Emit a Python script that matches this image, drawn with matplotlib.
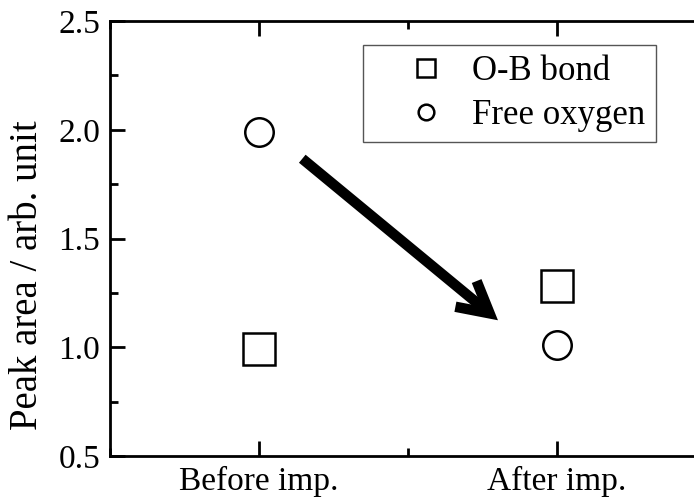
import matplotlib
matplotlib.use("Agg")
import matplotlib.pyplot as plt
from matplotlib.patches import FancyArrowPatch
from matplotlib.ticker import MultipleLocator

categories = ['Before imp.', 'After imp.']
ob_bond = [0.99, 1.28]
free_oxygen = [1.99, 1.01]

plt.rcParams['font.family'] = 'serif'
plt.rcParams['font.serif'] = ['Liberation Serif', 'Times New Roman', 'DejaVu Serif']

fig = plt.figure(figsize=(6.94, 5.04), dpi=100)
# axes runs past the right edge of the figure, like the cropped original
ax = fig.add_axes([0.1585, 0.0952, 0.9078, 0.8631])

x = list(range(len(categories)))
ax.plot(x, ob_bond, 's', ms=22.5, mfc='none', mec='black', mew=1.8, label='O-B bond')
ax.plot(x, free_oxygen, 'o', ms=20.5, mfc='none', mec='black', mew=1.8, label='Free oxygen')

ax.set_xlim(-0.5, 1.614)
ax.set_ylim(0.5, 2.5)
ax.set_xticks(x)
ax.set_xticklabels(categories)
ax.xaxis.set_minor_locator(MultipleLocator(0.5))
ax.yaxis.set_major_locator(MultipleLocator(0.5))
ax.yaxis.set_minor_locator(MultipleLocator(0.25))

ax.tick_params(which='both', direction='in', width=2, labelsize=24,
               left=True, right=False, top=True, bottom=True)
ax.tick_params(which='major', length=11)
ax.tick_params(which='minor', length=6)
ax.tick_params(axis='y', pad=7)
ax.tick_params(axis='x', pad=7)
for s in ax.spines.values():
    s.set_linewidth(2)
ax.spines['right'].set_visible(False)

ax.set_ylabel('Peak area / arb. unit', fontsize=28)
ax.yaxis.set_label_coords(-0.101, 0.415)

arrow = FancyArrowPatch((0.138, 1.875), (0.809, 1.116),
                        arrowstyle='->,head_length=1.1,head_width=0.6',
                        mutation_scale=20, lw=7.5, color='black',
                        capstyle='butt', joinstyle='miter')
ax.add_patch(arrow)

leg = ax.legend(loc='upper left', bbox_to_anchor=(0.4016, 0.945), borderaxespad=0,
                fontsize=25, markerscale=0.55, fancybox=False, framealpha=1,
                borderpad=0.3, handlelength=3.0, handletextpad=-0.16, labelspacing=0.3)
leg.get_frame().set_edgecolor('#555555')
leg.get_frame().set_linewidth(1)

fig.savefig('out.png', dpi=100)
